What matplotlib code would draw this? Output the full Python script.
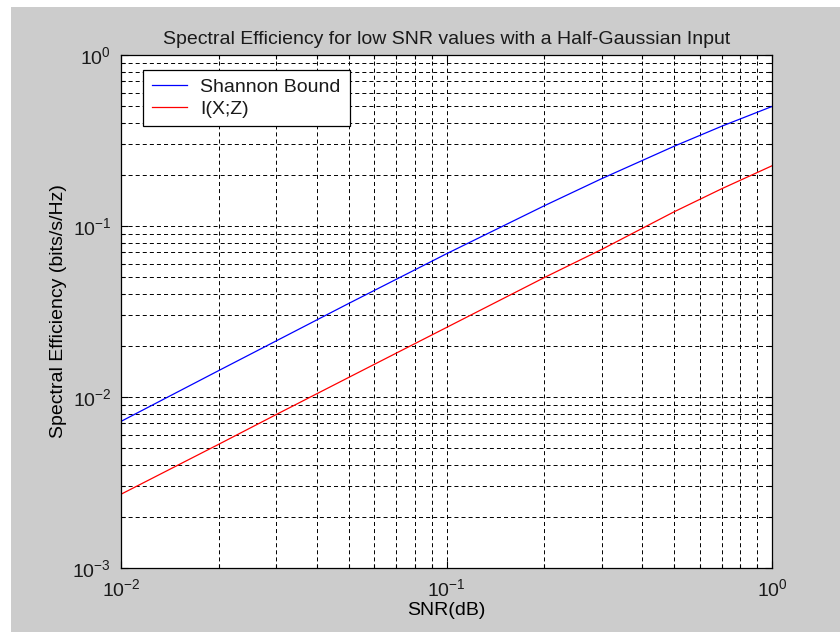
import numpy as np
import matplotlib
matplotlib.use('Agg')
import matplotlib.pyplot as plt
from matplotlib.patches import Rectangle

plt.rcParams['font.family'] = ['Liberation Sans', 'DejaVu Sans']
plt.rcParams['lines.scale_dashes'] = False
plt.rcParams['text.color'] = '#1a1a1a'

# values
snr = [0.01, 0.02, 0.03, 0.05, 0.1, 0.2, 0.3, 0.5, 0.7, 1.0]
shannon = [0.0072, 0.0143, 0.0213, 0.0352, 0.0688, 0.1315, 0.1893, 0.2925, 0.383, 0.5]
ixz = [0.0027, 0.0053, 0.0079, 0.0130, 0.0255, 0.0500, 0.0730, 0.121, 0.165, 0.225]

fig = plt.figure(figsize=(8.4, 6.32), dpi=100, facecolor='white')
# grey panel like the matlab window (white strip on left/top)
fig.patches.append(Rectangle((11/840, 0), 1, 1 - 7/632, transform=fig.transFigure,
                             facecolor='#cccccc', edgecolor='none', zorder=-10))

ax = fig.add_axes([121/840, 1 - 568/632, 651/840, 513/632])
ax.set_facecolor('white')
ax.plot(snr, shannon, color='#0000ff', lw=0.9, label='Shannon Bound')
ax.plot(snr, ixz, color='#ff0000', lw=0.9, label='I(X;Z)')
ax.set_xscale('log')
ax.set_yscale('log')
ax.set_xlim(1e-2, 1e0)
ax.set_ylim(1e-3, 1e0)

dash = (0, (2.9, 2.2))
ax.grid(True, which='both', color='black', linestyle=dash, linewidth=0.7)
ax.set_axisbelow(True)
ax.tick_params(which='both', direction='in', top=True, right=True, labelsize=14,
               pad=7, labelcolor='#1a1a1a')
ax.tick_params(which='major', length=5, width=0.8)
ax.tick_params(which='minor', length=3, width=0.8)
for s in ax.spines.values():
    s.set_linewidth(0.9)

ax.set_title('Spectral Efficiency for low SNR values with a Half-Gaussian Input', fontsize=14, pad=8)
ax.set_xlabel('SNR(dB)', fontsize=14, labelpad=2)
ax.set_ylabel('Spectral Efficiency (bits/s/Hz)', fontsize=14, labelpad=4)

leg = ax.legend(loc='upper left', bbox_to_anchor=(0.034, 0.971), borderaxespad=0,
                fontsize=14, fancybox=False, framealpha=1, edgecolor='black',
                handlelength=1.8, borderpad=0.45, labelspacing=0.2, handletextpad=0.7)
leg.get_frame().set_linewidth(0.9)

fig.savefig('out.png', dpi=100, facecolor=fig.get_facecolor())
